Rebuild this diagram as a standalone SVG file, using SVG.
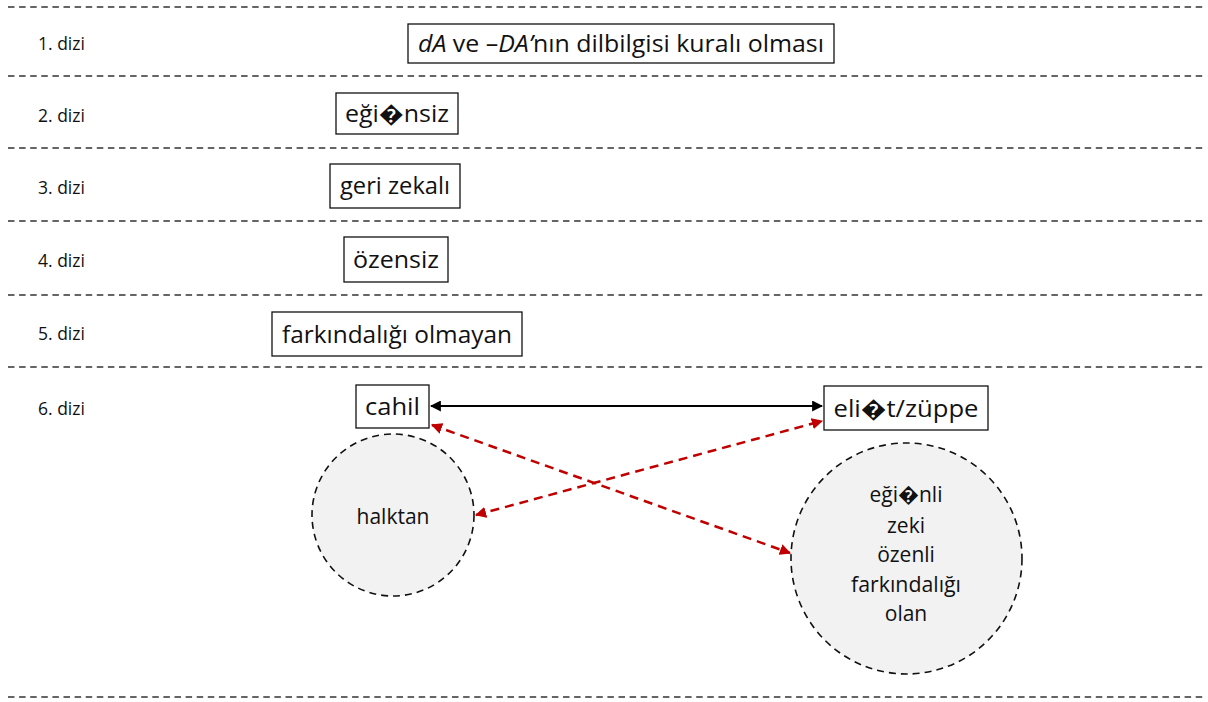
<svg xmlns="http://www.w3.org/2000/svg" width="1208" height="702" viewBox="0 0 1208 702">
<style>
.sep{stroke:#333;stroke-width:1.3;stroke-dasharray:6.5 4.6;fill:none}
.lbl{font-family:"Open Sans","Liberation Sans",sans-serif;font-size:17.5px;fill:#111;dominant-baseline:central}
.box{fill:#fff;stroke:#111;stroke-width:1.3}
.bt{font-family:"Open Sans","Liberation Sans","DejaVu Sans",sans-serif;font-size:23.5px;fill:#111;dominant-baseline:central;text-anchor:middle}
.circ{fill:#f2f2f2;stroke:#111;stroke-width:1.6;stroke-dasharray:7 5}
.ct{font-family:"Open Sans","Liberation Sans","DejaVu Sans",sans-serif;font-size:21px;fill:#111;dominant-baseline:central;text-anchor:middle}
.blk{stroke:#000;stroke-width:2;fill:none}
.red{stroke:#c00000;stroke-width:2.5;stroke-dasharray:9 6;fill:none}
</style>
<defs>
<marker id="ab" viewBox="0 0 10 10" refX="9" refY="5" markerWidth="5.5" markerHeight="5.5" orient="auto-start-reverse" markerUnits="strokeWidth">
<path d="M0,0 L10,5 L0,10 z" fill="#000"/>
</marker>
<marker id="ar" viewBox="0 0 10 10" refX="9" refY="5" markerWidth="4.5" markerHeight="4.5" orient="auto-start-reverse" markerUnits="strokeWidth">
<path d="M0,0 L10,5 L0,10 z" fill="#c00000"/>
</marker>
</defs>
<g id="separators">
<line class="sep" x1="8" y1="7" x2="1205" y2="7"/>
<line class="sep" x1="8" y1="76" x2="1205" y2="76"/>
<line class="sep" x1="8" y1="148" x2="1205" y2="148"/>
<line class="sep" x1="8" y1="221" x2="1205" y2="221"/>
<line class="sep" x1="8" y1="295" x2="1205" y2="295"/>
<line class="sep" x1="8" y1="367" x2="1205" y2="367"/>
<line class="sep" x1="8" y1="697" x2="1205" y2="697"/>
</g>
<g id="labels">
<text class="lbl" x="38" y="43">1. dizi</text>
<text class="lbl" x="38" y="115">2. dizi</text>
<text class="lbl" x="38" y="187">3. dizi</text>
<text class="lbl" x="38" y="260">4. dizi</text>
<text class="lbl" x="38" y="333">5. dizi</text>
<text class="lbl" x="38" y="408">6. dizi</text>
</g>
<g id="n1">
<rect class="box" x="408" y="24" width="426" height="39"/>
<text class="bt" x="621" y="43" textLength="406" lengthAdjust="spacingAndGlyphs"><tspan font-style="italic">dA</tspan> ve –<tspan font-style="italic">DA’</tspan>nın dilbilgisi kuralı olması</text>
</g>
<g id="n2">
<rect class="box" x="336" y="93" width="122" height="41"/>
<text class="bt" x="397" y="113" textLength="104" lengthAdjust="spacingAndGlyphs">eği�nsiz</text>
</g>
<g id="n3">
<rect class="box" x="330" y="164" width="130" height="44"/>
<text class="bt" x="395" y="185" textLength="110" lengthAdjust="spacingAndGlyphs">geri zekalı</text>
</g>
<g id="n4">
<rect class="box" x="344" y="237" width="104" height="45"/>
<text class="bt" x="396" y="259" textLength="86" lengthAdjust="spacingAndGlyphs">özensiz</text>
</g>
<g id="n5">
<rect class="box" x="272" y="312" width="250" height="44"/>
<text class="bt" x="397" y="334" textLength="230" lengthAdjust="spacingAndGlyphs">farkındalığı olmayan</text>
</g>
<g id="cahil">
<rect class="box" x="356" y="385" width="73" height="43"/>
<text class="bt" x="392.5" y="406" textLength="55" lengthAdjust="spacingAndGlyphs">cahil</text>
</g>
<g id="elitist">
<rect class="box" x="824" y="386" width="164" height="44"/>
<text class="bt" x="906" y="408" textLength="145" lengthAdjust="spacingAndGlyphs">eli�t/züppe</text>
</g>
<g id="halktan">
<circle class="circ" cx="393" cy="515" r="81"/>
<text class="ct" x="393" y="516">halktan</text>
</g>
<g id="egitimli">
<circle class="circ" cx="906.5" cy="558.5" r="115.5"/>
<text class="ct" font-size="22" x="906" y="494">eği�nli</text>
<text class="ct" font-size="22" x="906" y="525">zeki</text>
<text class="ct" font-size="22" x="906" y="554">özenli</text>
<text class="ct" font-size="22" x="906" y="584" textLength="110" lengthAdjust="spacingAndGlyphs">farkındalığı</text>
<text class="ct" font-size="22" x="906" y="613">olan</text>
</g>
<g id="connectors">
<line class="blk" x1="431" y1="406" x2="822" y2="406" marker-start="url(#ab)" marker-end="url(#ab)"/>
<line class="red" x1="432" y1="425" x2="790" y2="553" marker-start="url(#ar)" marker-end="url(#ar)"/>
<line class="red" x1="476" y1="515" x2="822" y2="421" marker-start="url(#ar)" marker-end="url(#ar)"/>
</g>
</svg>
